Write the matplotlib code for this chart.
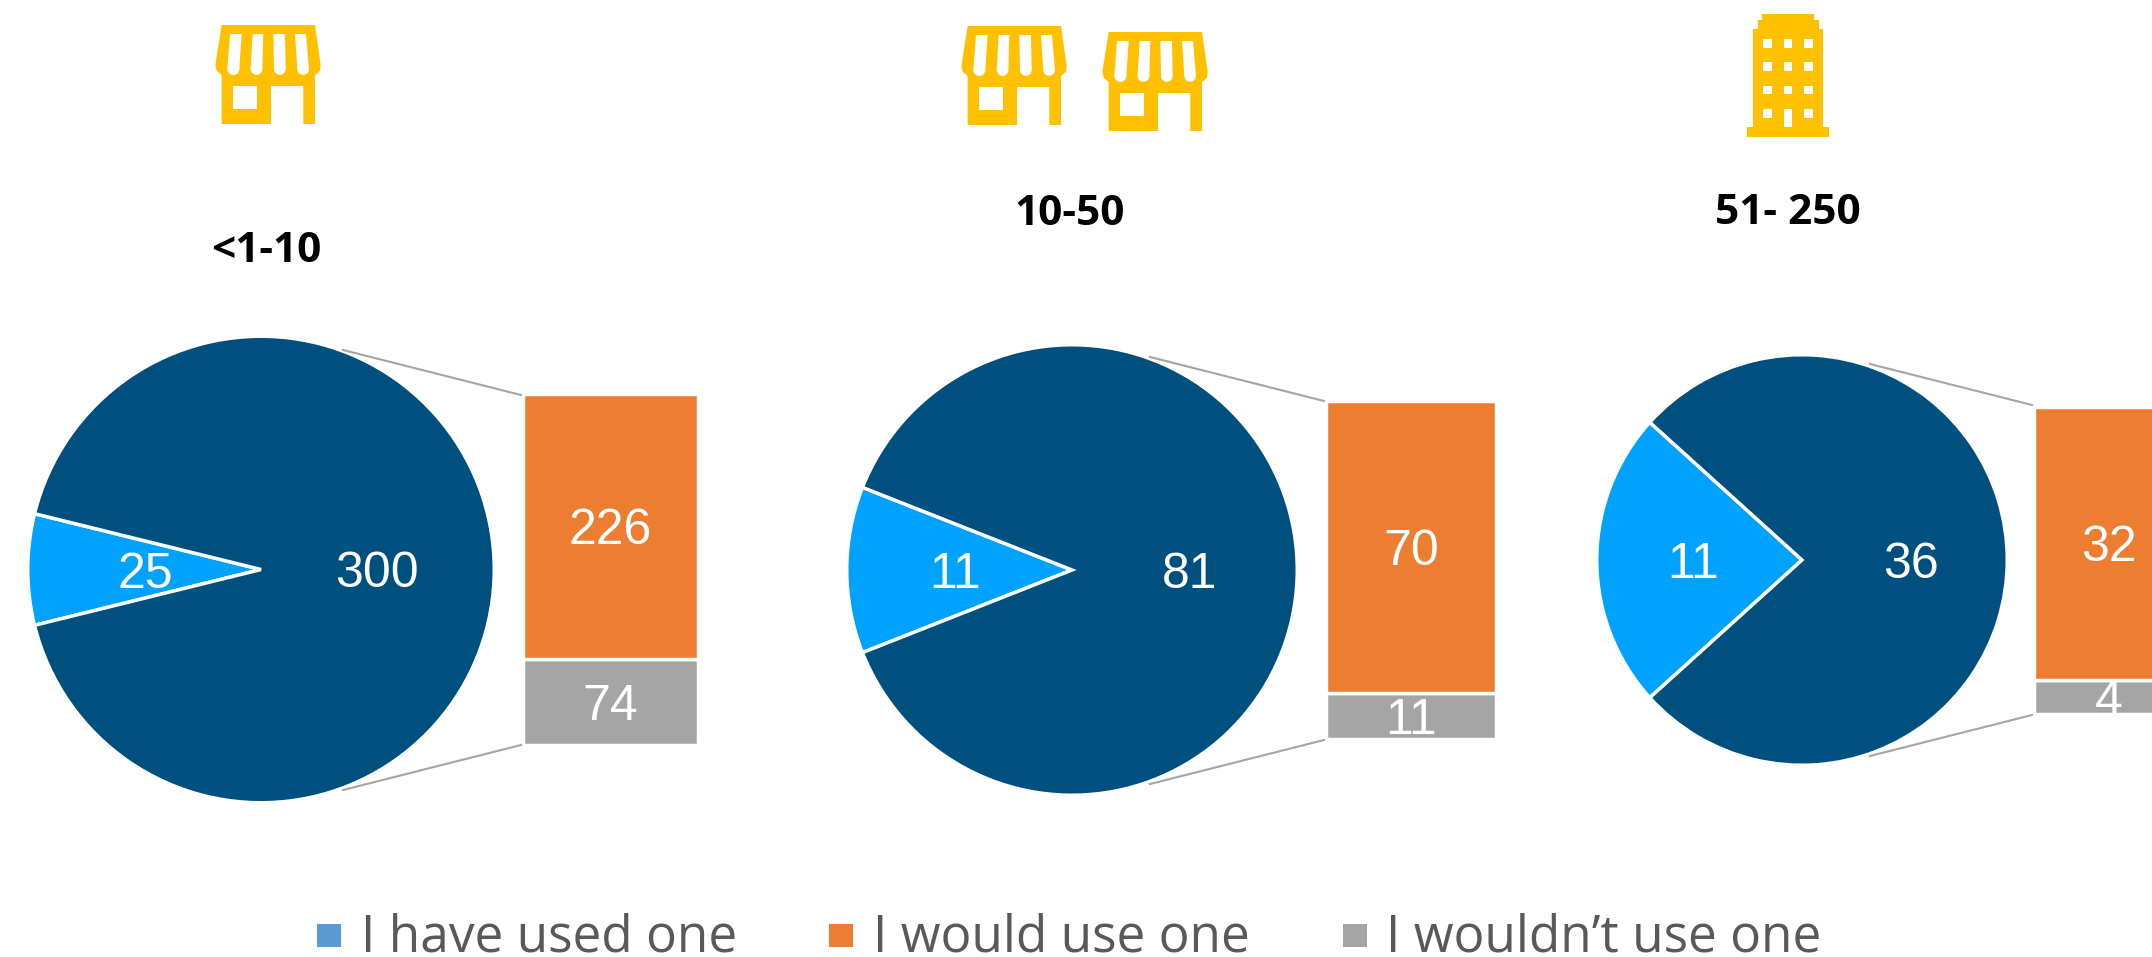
import matplotlib
matplotlib.use('Agg')
import matplotlib.pyplot as plt
import numpy as np
from matplotlib.patches import Circle, Polygon, Rectangle

W, H = 2152, 957

titles = ['<1-10', '10-50', '51- 250']
have_used = [25, 11, 11]
would_use = [226, 70, 32]
wouldnt_use = [74, 11, 4]
legend_labels = ['I have used one', 'I would use one', 'I wouldn\u2019t use one']

NAVY = '#00507F'
SKY = '#00A2FF'
ORANGE = '#ED7D31'
GREY = '#A5A5A5'
AMBER = '#FFC000'

fig = plt.figure(figsize=(W / 100, H / 100), dpi=100, facecolor='white')


def px_axes(x0, y0, x1, y1):
    # axes placed with pixel corners, y measured from the top of the picture
    ax = fig.add_axes([x0 / W, 1 - y1 / H, (x1 - x0) / W, (y1 - y0) / H])
    ax.axis('off')
    return ax


# full picture overlay for icons, titles, leader lines and the legend
bg = px_axes(0, 0, W, H)
bg.set_xlim(0, W)
bg.set_ylim(H, 0)


def box(ax, x0, y0, x1, y1, color):
    ax.add_patch(Rectangle((x0, y0), x1 - x0, y1 - y0, fc=color, ec='none'))


def shop(ax, ox, oy):
    def p(x, y):
        return (ox + x / 3, oy + y / 3)
    body = [(125, 75), (405, 75), (422, 195), (420, 212), (405, 225), (405, 372),
            (370, 372), (370, 258), (273, 258), (273, 372), (125, 372), (125, 225),
            (110, 212), (106, 195)]
    ax.add_patch(Polygon([p(*q) for q in body], fc=AMBER, ec='none'))
    box(ax, *p(160, 258), *p(230, 328), 'white')
    slots = [(150, 185, 142, 178), (218, 250, 212, 247), (280, 315, 282, 317), (345, 378, 352, 387)]
    for a, b, c, d in slots:
        ax.add_patch(Polygon([p(a, 102), p(b, 102), p(d, 207), p(c, 207)], fc='white', ec='none'))
        ax.add_patch(Circle(p((c + d) / 2, 207), (d - c) / 6, fc='white', ec='none'))


def building(ax, ox, oy):
    def p(x, y):
        return (ox + x / 3, oy + y / 3)
    box(ax, *p(127, 43), *p(283, 62), AMBER)
    box(ax, *p(113, 60), *p(297, 90), AMBER)
    box(ax, *p(100, 87), *p(309, 382), AMBER)
    box(ax, *p(82, 380), *p(327, 410), AMBER)
    for wy in [117, 187, 257, 327]:
        for wx in [130, 191, 252]:
            box(ax, *p(wx, wy), *p(wx + 26, wy + 26), 'white')
    box(ax, *p(191, 327), *p(217, 380), 'white')


shop(bg, 180, 0)
shop(bg, 926, 1)
shop(bg, 1067, 7)
building(bg, 1720, 0)

# pixel layout of each group: pie centre and radius, bar box, title, leader lines
pie_boxes = [(261, 569.5, 232), (1072, 570, 224), (1802, 560, 204)]
label_dist = [0.495, 0.52, 0.53]
bar_boxes = [(524, 395, 697, 744), (1327, 402, 1495, 738), (2035, 408, 2183, 713)]
title_pos = [(266, 262), (1070, 225), (1788, 224)]
leaders = [
    [(343, 350), (521, 395), (343, 790), (521, 745)],
    [(1150, 357), (1324, 401), (1150, 784), (1324, 740)],
    [(1870, 364), (2032, 405), (1870, 756), (2032, 715)],
]
EDGE = 1.25  # half the white outline, it eats into the coloured shapes

for i in range(3):
    cx, cy, r = pie_boxes[i]
    r = r + EDGE
    ax = px_axes(cx - r, cy - r, cx + r, cy + r)
    rest = would_use[i] + wouldnt_use[i]
    total = have_used[i] + rest
    start = 180 - have_used[i] / total * 180
    wedges, _ = ax.pie([have_used[i], rest], colors=[SKY, NAVY], startangle=start, radius=1,
                       wedgeprops={'edgecolor': 'white', 'linewidth': 2.5})
    ax.set_xlim(-1, 1)
    ax.set_ylim(-1, 1)
    for w, v in zip(wedges, [have_used[i], rest]):
        ang = np.deg2rad((w.theta1 + w.theta2) / 2)
        ax.text(label_dist[i] * np.cos(ang), label_dist[i] * np.sin(ang), str(v), color='white', fontsize=36,
                family='Liberation Sans', ha='center', va='center_baseline')

    x0, y0, x1, y1 = bar_boxes[i]
    bx = px_axes(x0 - EDGE, y0 - EDGE, x1 + EDGE, y1 + EDGE)
    low = bx.bar(0, wouldnt_use[i], width=1, color=GREY, edgecolor='white', linewidth=2.5)
    high = bx.bar(0, would_use[i], width=1, bottom=wouldnt_use[i], color=ORANGE, edgecolor='white', linewidth=2.5)
    bx.set_xlim(-0.5, 0.5)
    bx.set_ylim(0, rest)
    for cont in [low, high]:
        for t in bx.bar_label(cont, label_type='center', color='white', fontsize=36, family='Liberation Sans'):
            t.set_va('center_baseline')

    a, b, c, d = leaders[i]
    bg.plot([a[0], b[0]], [a[1], b[1]], color=GREY, lw=1.5)
    bg.plot([c[0], d[0]], [c[1], d[1]], color=GREY, lw=1.5)
    bg.text(title_pos[i][0], title_pos[i][1], titles[i], fontsize=30.5, fontweight='bold',
            family='Open Sans', color='black', ha='center', va='baseline')

legend_colors = ['#5B9BD5', ORANGE, GREY]
swatch_x = [317, 829, 1343]
text_x = [361, 873, 1386]
for lab, col, sx, tx in zip(legend_labels, legend_colors, swatch_x, text_x):
    box(bg, sx, 924, sx + 24, 947, col)
    bg.text(tx, 952, lab, fontsize=37, family='Open Sans', color='#595959', ha='left', va='baseline')

bg.set_zorder(3)
fig.savefig('out.png', dpi=100, facecolor='white')
